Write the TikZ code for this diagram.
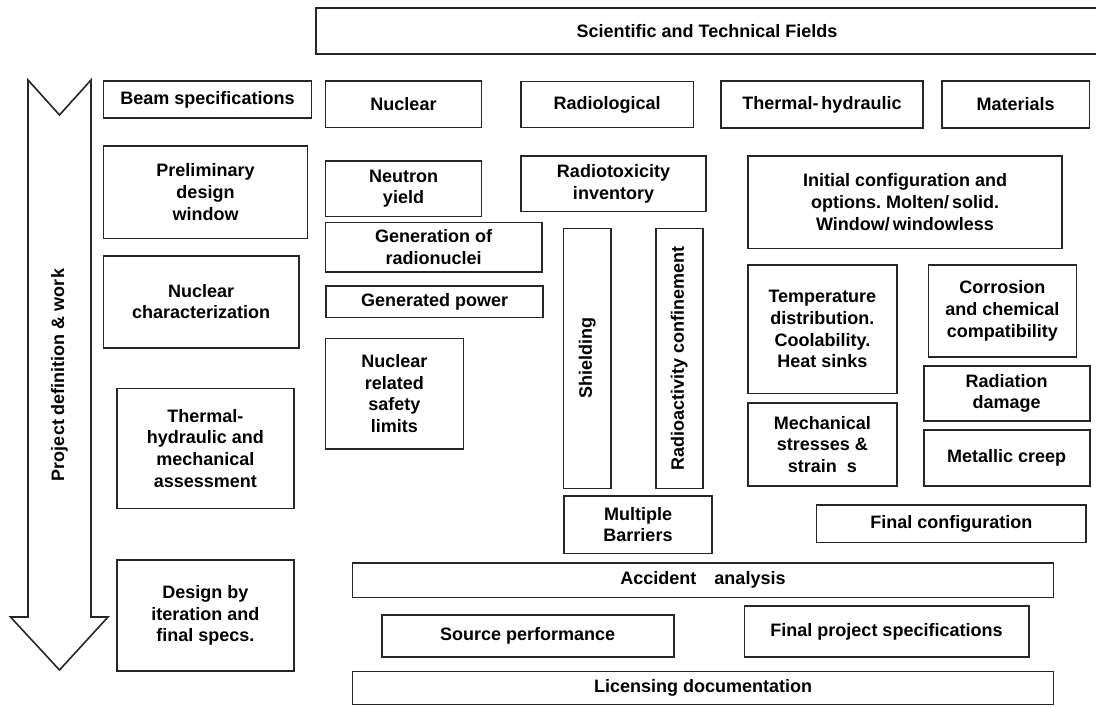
\documentclass[tikz,border=0pt]{standalone}
\usepackage{fontspec}
\setmainfont{Liberation Sans}
\usepackage{tikz}
\usetikzlibrary{shapes,arrows,positioning,calc}
\frenchspacing

\tikzset{
  fieldbox/.style={draw=black!85, line width=0.8pt, rectangle, inner sep=0pt, align=center,
    font=\fontsize{9}{10.8}\selectfont\bfseries},
  flowtext/.style={font=\fontsize{9}{10.8}\selectfont\bfseries}
}

\begin{document}
\begin{tikzpicture}[x=0.5pt, y=-0.5pt]
    \useasboundingbox (0,0) rectangle (1096,706);
    % big arrow on the left
    \draw[black!85, line width=0.8pt] (28,80) -- (59.5,115) -- (91,80) -- (91,617) -- (108,617)
        -- (59.5,670) -- (10.5,617) -- (28,617) -- cycle;
    \node[flowtext, rotate=90] (flow) at (59.5,375) {Project definition \& work};

    \node[fieldbox, minimum width=391pt, minimum height=23pt] (fields) at (707,31.3) {Scientific and Technical Fields};

    \node[fieldbox, minimum width=104pt, minimum height=18.5pt] (beam) at (207.5,99.5) {Beam specifications};
    \node[fieldbox, minimum width=78pt, minimum height=23.3pt] (nuclear) at (403.5,104.3) {Nuclear};
    \node[fieldbox, minimum width=86.2pt, minimum height=22.8pt] (radio) at (607.2,104.5) {Radiological};
    \node[fieldbox, minimum width=101pt, minimum height=23.5pt] (thermal) at (822,104.5) {Thermal-\,hydraulic};
    \node[fieldbox, minimum width=73.9pt, minimum height=23.5pt] (materials) at (1015.7,104.5) {Materials};

    \node[fieldbox, minimum width=102pt, minimum height=46.3pt] (prelim) at (205.5,192) {Preliminary\\design\\window};
    \node[fieldbox, minimum width=97.6pt, minimum height=46pt] (nucchar) at (201.2,301.7) {Nuclear\\characterization};
    \node[fieldbox, minimum width=88.6pt, minimum height=60pt] (thermech) at (205.4,448.3) {Thermal-\\hydraulic and\\mechanical\\assessment};
    \node[fieldbox, minimum width=88.6pt, minimum height=55.4pt] (design) at (205.4,615.4) {Design by\\iteration and\\final specs.};

    \node[fieldbox, minimum width=78pt, minimum height=27.8pt] (neutron) at (403.5,188.8) {Neutron\\yield};
    \node[fieldbox, minimum width=108.2pt, minimum height=24.7pt] (genrad) at (433.7,247) {Generation of\\radionuclei};
    \node[fieldbox, minimum width=108.4pt, minimum height=15.7pt] (genpow) at (434.6,301.7) {Generated power};
    \node[fieldbox, minimum width=69.1pt, minimum height=55.4pt] (safety) at (394.4,393.7) {Nuclear\\related\\safety\\limits};

    \node[fieldbox, minimum width=92.5pt, minimum height=27.8pt] (radiotox) at (613.5,183.8) {Radiotoxicity\\inventory};
    \node[fieldbox, rotate=90, minimum width=130pt, minimum height=23.6pt] (shielding) at (587.2,358.3) {Shielding};
    \node[fieldbox, rotate=90, minimum width=130pt, minimum height=23.5pt] (confine) at (679.3,358.3) {Radioactivity confinement};
    \node[fieldbox, minimum width=74pt, minimum height=28.8pt] (barriers) at (638,524.5) {Multiple\\Barriers};

    \node[fieldbox, minimum width=157.2pt, minimum height=46.2pt] (initial) at (905,202.2) {Initial configuration and\\options. Molten/\,solid.\\Window/\,windowless};
    \node[fieldbox, minimum width=74.6pt, minimum height=64.2pt] (temp) at (822.4,329.2) {Temperature\\distribution.\\Coolability.\\Heat sinks};
    \node[fieldbox, minimum width=74.6pt, minimum height=41.7pt] (mech) at (822.4,444.4) {Mechanical\\stresses \&\\strain~~s};
    \node[fieldbox, minimum width=74.1pt, minimum height=45.9pt] (corrosion) at (1002.4,310.9) {Corrosion\\and chemical\\compatibility};
    \node[fieldbox, minimum width=83pt, minimum height=27.5pt] (damage) at (1006.7,393.5) {Radiation\\damage};
    \node[fieldbox, minimum width=83pt, minimum height=28pt] (creep) at (1006.7,458) {Metallic creep};
    \node[fieldbox, minimum width=134.7pt, minimum height=18.7pt] (finalconf) at (951.3,523.7) {Final configuration};

    \node[fieldbox, minimum width=350.5pt, minimum height=17.3pt] (accident) at (703,580) {Accident\quad analysis};
    \node[fieldbox, minimum width=146pt, minimum height=20.9pt] (source) at (527.7,635.9) {Source performance};
    \node[fieldbox, minimum width=142.2pt, minimum height=25.4pt] (finalspec) at (886.5,631.4) {Final project specifications};
    \node[fieldbox, minimum width=350.5pt, minimum height=16.6pt] (licensing) at (703,688) {Licensing documentation};
\end{tikzpicture}
\end{document}
